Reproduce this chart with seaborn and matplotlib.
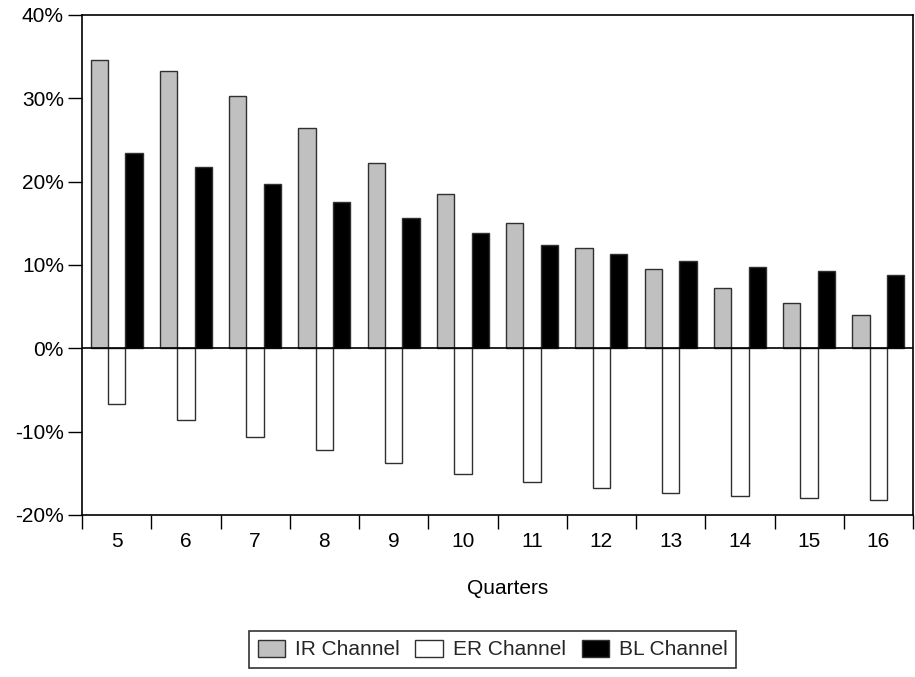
import numpy as np
import pandas as pd
import matplotlib
matplotlib.use("Agg")
import matplotlib.pyplot as plt
from matplotlib.ticker import PercentFormatter, FixedLocator
from matplotlib.patches import Patch
import seaborn as sns

quarters = ["5", "6", "7", "8", "9", "10", "11", "12", "13", "14", "15", "16"]
ir_channel = [34.6, 33.3, 30.3, 26.4, 22.3, 18.5, 15.0, 12.0, 9.5, 7.3, 5.5, 4.0]
er_channel = [-6.7, -8.65, -10.6, -12.25, -13.8, -15.05, -16.0, -16.8, -17.4, -17.75, -18.0, -18.2]
bl_channel = [23.4, 21.8, 19.7, 17.6, 15.6, 13.85, 12.45, 11.3, 10.45, 9.8, 9.3, 8.8]
series_names = ["IR Channel", "ER Channel", "BL Channel"]
y_ticks = [-20, -10, 0, 10, 20, 30, 40]

sns.set_theme(style="white")
plt.rcParams["font.family"] = ["Liberation Sans", "DejaVu Sans"]
plt.rcParams["axes.unicode_minus"] = False

df = pd.DataFrame({
    "Quarter": quarters * 3,
    "Series": [series_names[0]] * 12 + [series_names[1]] * 12 + [series_names[2]] * 12,
    "Value": ir_channel + er_channel + bl_channel,
})

colors = {"IR Channel": "#c0c0c0", "ER Channel": "#ffffff", "BL Channel": "#000000"}
edges = {"IR Channel": "#404040", "ER Channel": "#202020", "BL Channel": "#000000"}

fig = plt.figure(figsize=(9.15, 6.77), dpi=100)
ax = fig.add_axes([82 / 915, 1 - 515 / 677, 831 / 915, 500 / 677])

sns.barplot(data=df, x="Quarter", y="Value", hue="Series", order=quarters,
            hue_order=series_names, palette=colors, width=0.75, gap=0,
            edgecolor="#303030", linewidth=1.0, saturation=1, legend=False, ax=ax)

ax.axhline(0, color="black", lw=1.2, zorder=3)

ax.set_xlim(-0.5, len(quarters) - 0.5)
ax.set_ylim(-20, 40)
ax.yaxis.set_major_locator(FixedLocator(y_ticks))
ax.yaxis.set_major_formatter(PercentFormatter(100, decimals=0))

ax.set_xticks(np.arange(len(quarters) + 1) - 0.5)
ax.set_xticklabels([])
ax.set_xticks(np.arange(len(quarters)), minor=True)
ax.set_xticklabels(quarters, minor=True)
ax.tick_params(axis="x", which="major", direction="out", length=10, width=1.0,
               color="black", bottom=True)
ax.tick_params(axis="x", which="minor", length=0, pad=12, labelsize=15, colors="black",
               bottom=True)
ax.tick_params(axis="y", which="major", direction="out", length=10, width=1.0,
               color="black", left=True, pad=3, labelsize=15, labelcolor="black")

for s in ax.spines.values():
    s.set_visible(True)
    s.set_color("black")
    s.set_linewidth(1.2)

ax.set_ylabel("")
ax.set_xlabel("Quarters", fontsize=15, color="black")
ax.xaxis.set_label_coords((508 - 82) / 831, (515 - 589) / 500)
ax.xaxis.label.set_verticalalignment("center")

handles = [Patch(facecolor=colors[n], edgecolor="#303030", linewidth=1.0, label=n)
           for n in series_names]
leg = fig.legend(handles=handles, loc="center", bbox_to_anchor=(492.5 / 915, 1 - 649.5 / 677),
                 ncol=3, fontsize=15, frameon=True, fancybox=False,
                 edgecolor="#333333", framealpha=1, handlelength=1.3, handleheight=0.87,
                 handletextpad=0.48, columnspacing=0.77, borderpad=0.4)
leg.get_frame().set_linewidth(1.2)

fig.savefig("out.png", dpi=100)
